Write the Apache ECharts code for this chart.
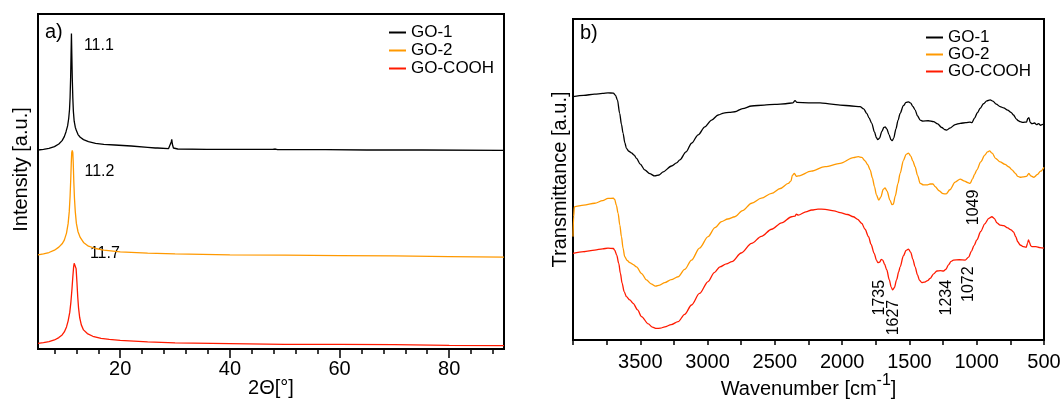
<!DOCTYPE html>
<html>
<head>
<meta charset="utf-8">
<script src="https://cdn.jsdelivr.net/npm/echarts@6/dist/echarts.min.js"></script>
<style>
html, body { margin: 0; padding: 0; background: #fff; }
#chart { width: 1062px; height: 399px; }
</style>
</head>
<body>
<div id="chart"></div>
<script>
// ── a) XRD: 2θ vs intensity (a.u., stacked) ──
const xrdGO1 = [
  [5, 59.4], [6, 59.6], [7, 59.9], [8, 60.4], [8.8, 61.2], [9.4, 62.2], [9.8, 63.4], [10.1, 64.8],
  [10.4, 66.6], [10.6, 68.8], [10.75, 71.5], [10.85, 75], [10.95, 81], [11.03, 88], [11.1, 94.2],
  [11.17, 88], [11.25, 81], [11.35, 75], [11.45, 71], [11.6, 68], [11.8, 66.2], [12.0, 65.2],
  [12.3, 64], [12.7, 63.2], [13.3, 62.5], [14.2, 61.9], [15.5, 61.4], [17, 61.1], [19, 60.9],
  [22, 60.6], [25, 60.2], [26.4, 60.0], [26.6, 60.4], [26.8, 60.0], [28.8, 59.8], [29.1, 60.3],
  [29.3, 61.8], [29.4, 62.6], [29.5, 61.2], [29.7, 60], [30.5, 59.7], [35.8, 59.6], [36, 60.0],
  [36.2, 59.6], [39.4, 59.6], [39.6, 59.9], [39.8, 59.6], [43.1, 59.6], [43.3, 59.9], [43.5, 59.6],
  [47.4, 59.6], [47.6, 60.1], [47.8, 59.6], [48.3, 59.7], [48.5, 60.1], [48.7, 59.5], [57.1, 59.5],
  [57.3, 59.8], [57.5, 59.5], [65, 59.4], [75, 59.4], [90, 59.3],
]
const xrdGO2 = [
  [5, 28.1], [6, 28.4], [7, 28.8], [8, 29.5], [8.8, 30.4], [9.4, 31.4], [9.8, 32.5], [10.2, 34.6],
  [10.5, 37.5], [10.7, 41], [10.85, 45.5], [10.97, 50.5], [11.07, 55.5], [11.15, 58.6], [11.25, 59.3],
  [11.35, 58.6], [11.43, 55.5], [11.53, 50], [11.65, 45], [11.8, 41], [12.0, 37.5], [12.3, 35],
  [12.7, 33.3], [13.3, 31.8], [14.2, 30.7], [15.5, 30], [17, 29.5], [20, 29.0], [25, 28.6],
  [30, 28.4], [40, 28.1], [50, 28.0], [60, 27.9], [70, 27.8], [80, 27.6], [90, 27.4],
]
const xrdCOOH = [
  [5, 1.7], [6, 1.9], [7, 2.2], [8, 2.7], [8.8, 3.4], [9.4, 4.2], [9.8, 5.1], [10.2, 6.6],
  [10.5, 8.4], [10.8, 11], [11.0, 14], [11.2, 18], [11.35, 21.5], [11.5, 24.5], [11.6, 25.6],
  [11.7, 25.9], [11.85, 25.6], [11.95, 24], [12.1, 20], [12.25, 15.5], [12.4, 12.2], [12.6, 9.4],
  [12.9, 7.2], [13.3, 5.7], [14, 4.6], [15, 3.8], [16.5, 3.2], [18, 2.9], [20, 2.6], [25, 2.1],
  [30, 1.8], [40, 1.6], [50, 1.4], [60, 1.4], [70, 1.3], [80, 1.1], [90, 1.0],
]
const xrdMajorTicks = [20, 40, 60, 80]
const xrdMinorTicks = [8, 12, 16, 24, 28, 32, 36, 44, 48, 52, 56, 64, 68, 72, 76, 84, 88]
const xrdPeakLabels = [[16.1, 90.5, '11.1'], [16.2, 52.9, '11.2'], [17.2, 28.6, '11.7']]

// ── b) FTIR: wavenumber vs transmittance (a.u., stacked) ──
const irGO1 = [
  [4000, 75.8], [3920, 76.2], [3840, 76.6], [3780, 76.8], [3740, 77.0], [3700, 76.9], [3685, 76.3],
  [3670, 74.8], [3653, 70.6], [3640, 67.2], [3628, 64.4], [3615, 61.5], [3603, 59.7], [3585, 58.8],
  [3566, 58.3], [3545, 57.6], [3528, 56.6], [3500, 54.8], [3467, 53.0], [3430, 51.8], [3392, 51.1],
  [3360, 51.4], [3330, 52.4], [3268, 54.2], [3230, 55.2], [3206, 56.1], [3160, 58.6], [3119, 61.3],
  [3070, 63.9], [3020, 66.4], [2970, 68.5], [2921, 70.1], [2880, 70.7], [2840, 70.9], [2797, 71.1],
  [2740, 72.1], [2673, 72.9], [2580, 73.2], [2500, 73.4], [2420, 73.6], [2365, 73.9], [2350, 74.6],
  [2336, 74.0], [2250, 73.9], [2164, 73.9], [2080, 73.5], [2015, 73.2], [1930, 72.9], [1867, 72.7],
  [1840, 72.0], [1817, 70.6], [1800, 69.2], [1780, 67.5], [1760, 64.8], [1745, 63.0], [1735, 62.4],
  [1722, 62.9], [1705, 65.0], [1690, 66.2], [1681, 66.4], [1668, 65.8], [1652, 64.0], [1637, 62.4],
  [1627, 62.1], [1617, 62.9], [1600, 65.8], [1585, 68.4], [1569, 70.6], [1545, 73.0], [1525, 74.0],
  [1507, 74.2], [1490, 73.8], [1475, 72.8], [1458, 71.7], [1440, 69.8], [1420, 68.5], [1400, 68.2],
  [1360, 68.3], [1321, 68.0], [1290, 67.3], [1260, 66.2], [1235, 65.5], [1222, 65.4], [1200, 66.0],
  [1160, 67.1], [1123, 67.5], [1080, 67.7], [1050, 67.9], [1036, 67.7], [1015, 69.2], [995, 70.8],
  [974, 72.2], [950, 73.6], [925, 74.5], [900, 74.8], [880, 74.4], [855, 73.5], [826, 72.7],
  [800, 72.3], [770, 71.6], [745, 70.9], [727, 70.1], [705, 68.8], [690, 68.3], [677, 68.0],
  [655, 67.8], [630, 67.9], [620, 69.0], [612, 69.3], [603, 67.8], [590, 67.4], [570, 67.6],
  [555, 67.1], [540, 67.4], [525, 66.9], [510, 67.2], [500, 67.0],
]
const irGO2 = [
  [4000, 32.2], [3995, 38.5], [3990, 41.5], [3920, 42.0], [3839, 42.6], [3780, 43.4], [3740, 44.1],
  [3700, 44.2], [3690, 43.8], [3678, 42.0], [3665, 39.5], [3652, 35.8], [3640, 32.2], [3628, 28.6],
  [3616, 26.0], [3598, 24.8], [3578, 24.1], [3553, 23.5], [3528, 22.8], [3490, 20.7], [3454, 18.7],
  [3420, 17.5], [3387, 16.8], [3355, 17.1], [3318, 17.9], [3270, 18.8], [3219, 19.7], [3170, 22.0],
  [3119, 24.9], [3060, 28.6], [2996, 32.2], [2945, 35.0], [2896, 36.9], [2850, 37.7], [2797, 38.4],
  [2740, 40.3], [2673, 42.6], [2600, 44.2], [2524, 45.7], [2460, 47.2], [2400, 48.8], [2380, 49.6],
  [2370, 51.3], [2355, 51.9], [2340, 51.0], [2326, 51.1], [2230, 52.6], [2127, 54.0], [2015, 55.0],
  [1917, 56.8], [1880, 57.1], [1854, 56.9], [1830, 55.8], [1810, 54.6], [1792, 53.0], [1775, 50.5],
  [1760, 47.8], [1745, 45.2], [1728, 43.6], [1712, 44.6], [1695, 46.9], [1681, 47.4], [1666, 46.4],
  [1645, 43.6], [1630, 42.2], [1620, 42.3], [1605, 44.9], [1585, 48.8], [1569, 51.9], [1545, 55.9],
  [1525, 57.8], [1507, 58.2], [1490, 57.3], [1475, 55.8], [1458, 54.0], [1440, 51.3], [1420, 48.8],
  [1395, 48.3], [1370, 48.3], [1346, 48.6], [1325, 48.6], [1309, 47.8], [1280, 46.5], [1250, 45.6],
  [1227, 45.5], [1200, 46.8], [1160, 49.2], [1123, 50.1], [1090, 49.5], [1065, 49.0], [1049, 48.8],
  [1030, 50.3], [1015, 51.7], [999, 53.0], [970, 55.5], [940, 57.6], [920, 58.6], [905, 58.9],
  [885, 58.2], [860, 56.6], [826, 55.5], [790, 54.7], [760, 53.9], [738, 53.0], [715, 52.0],
  [695, 51.0], [677, 50.7], [655, 50.8], [630, 51.0], [612, 51.9], [598, 51.1], [575, 50.7],
  [550, 51.5], [525, 52.6], [500, 53.8],
]
const irCOOH = [
  [4000, 27.0], [3920, 27.5], [3839, 28.0], [3780, 28.4], [3740, 28.6], [3700, 28.5], [3690, 28.0],
  [3675, 26.4], [3660, 23.9], [3648, 20.8], [3635, 17.7], [3620, 15.1], [3603, 13.5], [3578, 12.5],
  [3553, 11.4], [3520, 9.4], [3491, 7.3], [3440, 5.0], [3410, 4.0], [3380, 3.6], [3350, 3.7],
  [3318, 4.1], [3270, 4.8], [3219, 5.7], [3170, 8.0], [3119, 10.9], [3060, 14.5], [2996, 18.2],
  [2950, 21.0], [2908, 22.8], [2860, 23.7], [2819, 24.4], [2750, 27.1], [2673, 30.1], [2600, 32.3],
  [2524, 34.5], [2450, 36.5], [2375, 38.4], [2350, 38.6], [2340, 39.2], [2326, 38.9], [2270, 39.9],
  [2226, 40.5], [2180, 40.8], [2127, 40.7], [2060, 40.2], [2015, 39.7], [1960, 39.1], [1917, 38.4],
  [1885, 37.6], [1854, 36.3], [1830, 34.5], [1804, 32.2], [1785, 29.8], [1762, 27.0], [1745, 24.9],
  [1735, 24.1], [1720, 24.3], [1710, 25.1], [1698, 24.9], [1685, 23.6], [1668, 21.8], [1650, 18.8],
  [1635, 16.4], [1624, 15.6], [1612, 16.3], [1595, 18.8], [1580, 21.2], [1569, 22.8], [1545, 26.2],
  [1525, 27.9], [1507, 28.3], [1490, 27.3], [1475, 25.2], [1458, 22.8], [1440, 20.3], [1425, 18.6],
  [1408, 17.9], [1390, 18.0], [1365, 18.5], [1346, 19.2], [1320, 20.6], [1296, 21.5], [1270, 21.6],
  [1247, 21.5], [1230, 22.0], [1210, 23.4], [1190, 24.5], [1173, 24.9], [1130, 25.0], [1086, 24.9],
  [1060, 25.8], [1040, 27.6], [1020, 29.4], [999, 31.2], [970, 33.8], [940, 36.2], [910, 37.9],
  [887, 38.4], [870, 37.9], [850, 36.5], [826, 35.8], [800, 35.6], [770, 34.9], [745, 34.3],
  [727, 33.7], [710, 32.2], [695, 30.6], [677, 29.6], [655, 29.1], [632, 28.9], [622, 30.2],
  [615, 31.2], [608, 30.4], [598, 29.3], [590, 29.1], [560, 29.1], [530, 28.8], [500, 28.6],
]
const irTickLabels = [3500, 3000, 2500, 2000, 1500, 1000, 500]
const irBandLabels = [
  [1723, 13.2, '1735'], [1614, 7.0, '1627'], [1222, 13.2, '1234'], [1061, 17.4, '1072'], [1024, 41.3, '1049'],
]

const names = ['GO-1', 'GO-2', 'GO-COOH']
const colors = ['#000000', '#ff9900', '#ff1a00']
const FONT = 'Liberation Sans, Arial, Helvetica, sans-serif'

const chart = echarts.init(document.getElementById('chart'), null, { renderer: 'canvas' })

const txt = (size) => ({ fontSize: size, color: '#000', fontFamily: FONT })
const plain = v => String(v)

function curve(name, data, i, xi, yi) {
  return {
    name, type: 'line', data, xAxisIndex: xi, yAxisIndex: yi,
    symbol: 'none', smooth: xi === 2 ? 0.3 : false, smoothMonotone: 'x',
    lineStyle: { width: 1.3, color: colors[i] }, itemStyle: { color: colors[i] },
    silent: true,
  }
}

function labels(list, xi, yi, rotate) {
  return {
    type: 'scatter', xAxisIndex: xi, yAxisIndex: yi, symbolSize: 1, silent: true,
    itemStyle: { color: 'rgba(0,0,0,0)', opacity: 1 },
    data: list.map(p => ({ value: [p[0], p[1]], label: { formatter: p[2] } })),
    label: { show: true, position: 'inside', rotate, opacity: 1, textBorderWidth: 0, ...txt(16) },
  }
}

const legendBase = {
  data: names, orient: 'vertical', icon: 'rect', itemWidth: 17, itemHeight: 2,
  textStyle: { ...txt(17), lineHeight: 17 }, padding: 0, selectedMode: false,
}

const axisName = { nameLocation: 'middle', nameMoveOverlap: false }

chart.setOption({
  animation: false,
  backgroundColor: '#fff',
  title: [
    { text: 'a)', left: 45, top: 22, padding: 0, textStyle: { ...txt(20), fontWeight: 'normal' } },
    { text: 'b)', left: 580, top: 23, padding: 0, textStyle: { ...txt(20), fontWeight: 'normal' } },
  ],
  legend: [
    { ...legendBase, left: 389, top: 24, itemGap: 1 },
    { ...legendBase, left: 926, top: 29, itemGap: 0 },
  ],
  grid: [
    { left: 38, top: 14, width: 466, height: 335, show: true, borderColor: '#000', borderWidth: 2, outerBoundsMode: 'none' },
    { left: 573, top: 19, width: 471, height: 321, show: true, borderColor: '#000', borderWidth: 2, outerBoundsMode: 'none' },
  ],
  xAxis: [
    {
      gridIndex: 0, type: 'value', min: 5, max: 90, position: 'bottom',
      axisLine: { show: true, lineStyle: { color: '#000', width: 2 } },
      axisTick: { show: true, customValues: xrdMajorTicks, length: 9, lineStyle: { color: '#000', width: 1.5 } },
      axisLabel: { customValues: xrdMajorTicks, formatter: plain, margin: 10, ...txt(20) },
      splitLine: { show: false },
      name: '2Θ[°]', ...axisName, nameGap: 29, nameTextStyle: txt(20),
    },
    {
      gridIndex: 0, type: 'value', min: 5, max: 90, position: 'bottom',
      axisLine: { show: false },
      axisTick: { show: true, customValues: xrdMinorTicks, length: 5, lineStyle: { color: '#000', width: 1.5 } },
      axisLabel: { show: false }, splitLine: { show: false },
    },
    {
      gridIndex: 1, type: 'value', min: 500, max: 4000, interval: 250, inverse: true, position: 'bottom',
      axisLine: { show: true, lineStyle: { color: '#000', width: 2 } },
      axisTick: { show: true, length: 5, lineStyle: { color: '#000', width: 1.5 } },
      axisLabel: { customValues: irTickLabels, formatter: plain, margin: 12, ...txt(20) },
      splitLine: { show: false },
      name: '{t|Wavenumber [cm}{s|-1}{t|]}', ...axisName, nameGap: 33,
      nameTextStyle: {
        rich: {
          t: { ...txt(20), lineHeight: 32 },
          s: { ...txt(16), lineHeight: 16, verticalAlign: 'top' },
        },
      },
    },
  ],
  yAxis: [
    {
      gridIndex: 0, type: 'value', min: 0, max: 100,
      axisLine: { show: false }, axisTick: { show: false }, axisLabel: { show: false }, splitLine: { show: false },
      name: 'Intensity [a.u.]', ...axisName, nameGap: 7,
      nameTextStyle: { ...txt(20), padding: [0, 0, 0, 24] },
    },
    {
      gridIndex: 1, type: 'value', min: 0, max: 100,
      axisLine: { show: false }, axisTick: { show: false }, axisLabel: { show: false }, splitLine: { show: false },
      name: 'Transmittance [a.u.]', ...axisName, nameGap: 3, nameTextStyle: txt(20),
    },
  ],
  series: [
    curve('GO-1', xrdGO1, 0, 0, 0),
    curve('GO-2', xrdGO2, 1, 0, 0),
    curve('GO-COOH', xrdCOOH, 2, 0, 0),
    labels(xrdPeakLabels, 0, 0, 0),
    curve('GO-1', irGO1, 0, 2, 1),
    curve('GO-2', irGO2, 1, 2, 1),
    curve('GO-COOH', irCOOH, 2, 2, 1),
    labels(irBandLabels, 2, 1, 90),
  ],
})
</script>
</body>
</html>
